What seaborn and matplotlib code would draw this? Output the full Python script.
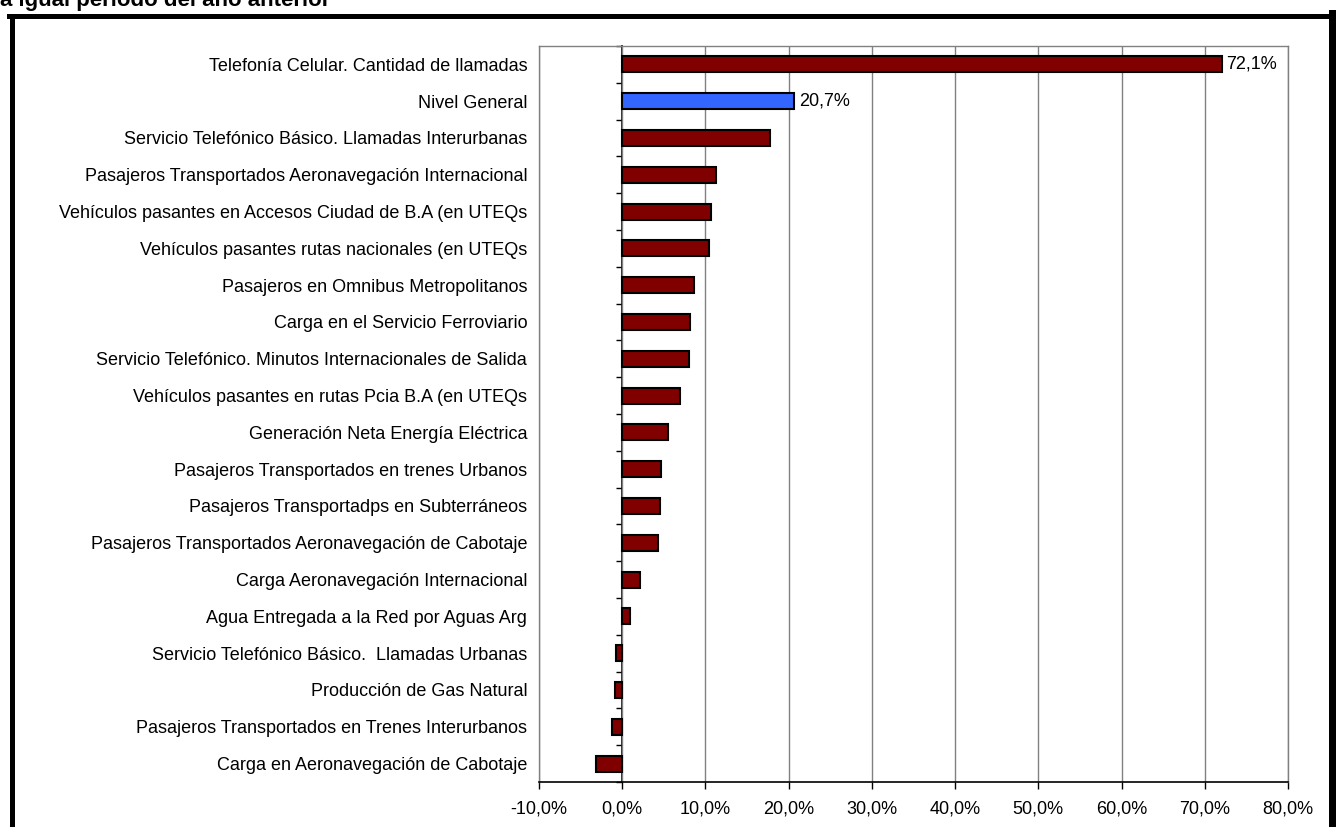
import numpy as np
import seaborn as sns
import matplotlib.pyplot as plt
from matplotlib.lines import Line2D
from matplotlib.ticker import FuncFormatter

# Variación porcentual de cada indicador, ordenada de mayor a menor
categories = [
    "Telefonía Celular. Cantidad de llamadas",
    "Nivel General",
    "Servicio Telefónico Básico. Llamadas Interurbanas",
    "Pasajeros Transportados Aeronavegación Internacional",
    "Vehículos pasantes en Accesos Ciudad de B.A (en UTEQs",
    "Vehículos pasantes rutas nacionales (en UTEQs",
    "Pasajeros en Omnibus Metropolitanos",
    "Carga en el Servicio Ferroviario",
    "Servicio Telefónico. Minutos Internacionales de Salida",
    "Vehículos pasantes en rutas Pcia B.A (en UTEQs",
    "Generación Neta Energía Eléctrica",
    "Pasajeros Transportados en trenes Urbanos",
    "Pasajeros Transportadps en Subterráneos",
    "Pasajeros Transportados Aeronavegación de Cabotaje",
    "Carga Aeronavegación Internacional",
    "Agua Entregada a la Red por Aguas Arg",
    "Servicio Telefónico Básico.  Llamadas Urbanas",
    "Producción de Gas Natural",
    "Pasajeros Transportados en Trenes Interurbanos",
    "Carga en Aeronavegación de Cabotaje",
]
values = [72.1, 20.7, 17.8, 11.3, 10.7, 10.4, 8.6, 8.2, 8.0, 6.9,
          5.5, 4.6, 4.5, 4.3, 2.1, 0.9, -0.7, -0.9, -1.2, -3.1]
labeled = ["Telefonía Celular. Cantidad de llamadas", "Nivel General"]
xticks = np.arange(-10, 81, 10)

colors = ["#3366FF" if c == "Nivel General" else "#800000" for c in categories]

plt.rcParams["font.family"] = ["Liberation Sans", "DejaVu Sans"]
fs = 13

fig = plt.figure(figsize=(13.36, 8.27), dpi=100)
ax = fig.add_axes([539 / 1336, 1 - 782 / 827, (1288 - 539) / 1336, (782 - 46) / 827])

sns.barplot(x=values, y=categories, hue=categories, palette=colors, orient="h",
            width=0.43, edgecolor="black", linewidth=1.5, legend=False,
            saturation=1, ax=ax)

# data labels for the first two bars
for i, (c, v) in enumerate(zip(categories, values)):
    if c in labeled:
        ax.text(v + 0.5, i, f"{v:.1f}%".replace(".", ","), va="center",
                ha="left", fontsize=fs)

ax.set_xlim(-10, 80)
ax.set_ylim(len(categories) - 0.5, -0.5)
ax.set_xticks(xticks)
ax.xaxis.set_major_formatter(FuncFormatter(lambda v, p: f"{v:.1f}%".replace(".", ",")))
ax.tick_params(axis="x", length=5, width=1, color="black", pad=8, labelsize=fs)
ax.tick_params(axis="y", length=0, pad=8.5, labelsize=fs)
ax.set_xlabel("")
ax.set_ylabel("")

ax.set_axisbelow(True)
ax.grid(axis="x", color="#808080", linewidth=1)
for s in ["top", "right", "left"]:
    ax.spines[s].set_color("#808080")
    ax.spines[s].set_linewidth(1)
ax.spines["bottom"].set_color("black")
ax.spines["bottom"].set_linewidth(1.2)

# zero axis with category separator ticks
zero_pos = (0 - xticks[0]) / (xticks[-1] - xticks[0])
sec = ax.secondary_yaxis(zero_pos)
sec.set_yticks(np.arange(-0.5, len(categories), 1))
sec.set_yticklabels([])
sec.tick_params(length=4, width=1, color="black", direction="out")
sec.spines["left"].set_color("black")
sec.spines["left"].set_linewidth(1.2)

# outer frame of the chart object
lw = 5 * 72 / 100
fig.add_artist(Line2D([11.5 / 1336, 11.5 / 1336], [0, 1 - 16 / 827],
                      color="black", lw=lw, transform=fig.transFigure))
fig.add_artist(Line2D([9 / 1336, 1], [1 - 16 / 827, 1 - 16 / 827],
                      color="black", lw=lw, transform=fig.transFigure))
fig.add_artist(Line2D([1333 / 1336, 1333 / 1336], [0, 1 - 13.5 / 827],
                      color="black", lw=9 * 72 / 100, transform=fig.transFigure))

# title sits mostly above the visible area, as in the source sheet
fig.text(0.0, 1 - 6 / 827, "a igual período del año anterior", fontsize=16,
         fontweight="bold", ha="left", va="baseline")

fig.savefig("out.png", dpi=100)
